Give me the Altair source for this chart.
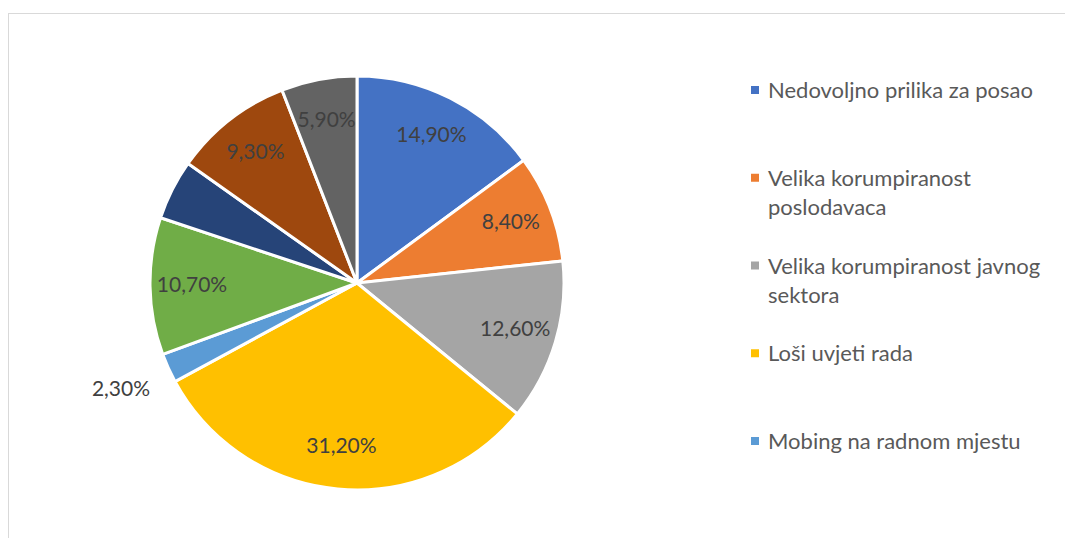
import altair as alt
import pandas as pd

categories = ["Nedovoljno prilika za posao", "Velika korumpiranost poslodavaca",
              "Velika korumpiranost javnog sektora", "Loši uvjeti rada",
              "Mobing na radnom mjestu", "Kategorija 6", "Kategorija 7",
              "Kategorija 8", "Kategorija 9"]
values = [14.9, 8.4, 12.6, 31.2, 2.3, 10.7, 4.7, 9.3, 5.9]
colors = ["#4472C4", "#ED7D31", "#A5A5A5", "#FFC000", "#5B9BD5",
          "#70AD47", "#264478", "#9E480E", "#636363"]
show_label = [True, True, True, True, True, True, False, True, True]
outside_label = [False, False, False, False, True, False, False, False, False]

legend_lines = [["Nedovoljno prilika za posao"],
                ["Velika korumpiranost", "poslodavaca"],
                ["Velika korumpiranost javnog", "sektora"],
                ["Loši uvjeti rada"],
                ["Mobing na radnom mjestu"]]

df = pd.DataFrame({
    "idx": list(range(len(categories))),
    "name": categories,
    "v": values,
    "show": show_label,
    "outside": outside_label,
})
leg = pd.DataFrame({
    "li": list(range(len(legend_lines))),
    "name": categories[:len(legend_lines)],
    "lines": legend_lines,
})

FONT = "Lato"
CX, CY = 349, 275
color_scale = alt.Scale(domain=categories, range=colors)
theta_scale = alt.Scale(domain=[0, 100])

base = (
    alt.Chart(df)
    .transform_window(cum="sum(v)", sort=[alt.SortField("idx")], frame=[None, 0])
    .transform_calculate(start="datum.cum - datum.v",
                         mid="datum.cum - datum.v / 2",
                         lbl="replace(format(datum.v, '.2f'), '.', ',') + '%'")
)

arcs = base.mark_arc(outerRadius=207, stroke="white", strokeWidth=3).encode(
    theta=alt.Theta("start:Q", scale=theta_scale),
    theta2="cum:Q",
    color=alt.Color("name:N", scale=color_scale, legend=None),
    x=alt.value(CX), y=alt.value(CY),
)

inside = base.transform_filter("datum.show && !datum.outside").mark_text(
    radius=165, fontSize=21, font=FONT, color="#404040"
).encode(
    theta=alt.Theta("mid:Q", scale=theta_scale),
    text="lbl:N",
    x=alt.value(CX), y=alt.value(CY),
)

outside = base.transform_filter("datum.show && datum.outside").mark_text(
    radius=259, fontSize=21, font=FONT, color="#404040"
).encode(
    theta=alt.Theta("mid:Q", scale=theta_scale),
    text="lbl:N",
    x=alt.value(CX), y=alt.value(CY),
)

leg_y = alt.Y("li:Q", scale=alt.Scale(domain=[0, 4], range=[82, 433]), axis=None)
leg_sq = alt.Chart(leg).mark_square(size=64, opacity=1).encode(
    x=alt.value(747), y=leg_y,
    color=alt.Color("name:N", scale=color_scale, legend=None),
)
leg_txt = alt.Chart(leg).mark_text(
    align="left", baseline="alphabetic", dy=8, fontSize=22, font=FONT,
    color="#595959", lineHeight=29
).encode(x=alt.value(760), y=leg_y, text="lines")

frame_src = pd.DataFrame({"a": [0]})
frame_left = alt.Chart(frame_src).mark_rule(color="#D9D9D9", strokeWidth=1).encode(
    x=alt.value(0.5), y=alt.value(5), y2=alt.value(530))
frame_top = alt.Chart(frame_src).mark_rule(color="#D9D9D9", strokeWidth=1).encode(
    x=alt.value(0), x2=alt.value(1057), y=alt.value(5.5))

chart = alt.layer(frame_left, frame_top, arcs, inside, outside, leg_sq, leg_txt).properties(
    width=1057, height=530, padding=0, autosize=alt.AutoSizeParams(type="none")
).configure_view(strokeWidth=0)

chart.save("out.html", embed_options={"renderer": "svg", "actions": False})
